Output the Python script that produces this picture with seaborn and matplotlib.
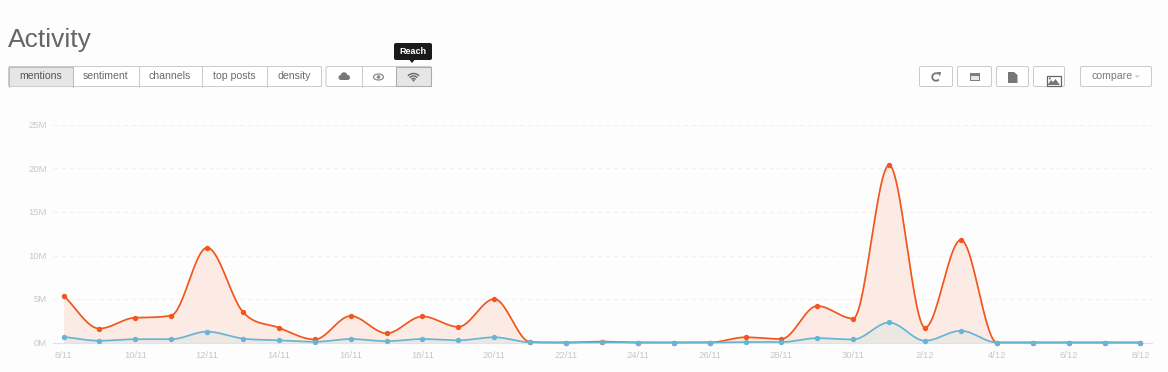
import numpy as np, matplotlib
matplotlib.use("Agg")
import matplotlib.pyplot as plt
import seaborn as sns
from matplotlib.patches import FancyBboxPatch, Rectangle, Circle, Ellipse, Polygon, Arc

# values in millions, one per day from 8/11 to 8/12
mentions = [5.4, 1.6, 2.85, 3.1, 10.9, 3.5, 1.7, 0.35, 3.05, 1.05, 3.0, 1.8, 5.0, 0.05, 0, 0.1,
            0, 0, 0, 0.6, 0.4, 4.2, 2.75, 20.4, 1.7, 11.8, 0, 0, 0, 0, 0]
reach = [0.65, 0.2, 0.38, 0.38, 1.25, 0.45, 0.25, 0.08, 0.4, 0.15, 0.4, 0.25, 0.6, 0.02, 0, 0.02,
         0, 0, 0, 0.05, 0.05, 0.5, 0.35, 2.3, 0.2, 1.35, 0, 0, 0, 0, 0]
tick_labels = ['8/11', '10/11', '12/11', '14/11', '16/11', '18/11', '20/11', '22/11',
               '24/11', '26/11', '28/11', '30/11', '2/12', '4/12', '6/12', '8/12']
y_ticks = [0, 5, 10, 15, 20, 25]
tabs = ['mentions', 'sentiment', 'channels', 'top posts', 'density']

BG = '#fdfdfd'
ORANGE = '#f0561d'
BLUE = '#68b4d4'
EDGE = '#cccccc'

sns.set_style("white")
plt.rcParams['font.family'] = ['Liberation Sans', 'DejaVu Sans']


def monotone(y, per=24):
    # d3 style monotone cubic: mean of the secants, zero at turning points, then limited
    y = np.array(y, dtype=float)
    x = np.arange(len(y))
    d = np.diff(y)
    m = np.zeros(len(y))
    for i in range(1, len(y) - 1):
        if d[i - 1] * d[i] > 0:
            m[i] = (d[i - 1] + d[i]) / 2
    m[0], m[-1] = d[0], d[-1]
    for i in range(len(d)):
        if d[i] == 0:
            m[i] = m[i + 1] = 0
            continue
        a, b = m[i] / d[i], m[i + 1] / d[i]
        s = a * a + b * b
        if s > 9:
            k = 3 / np.sqrt(s)
            m[i], m[i + 1] = k * a * d[i], k * b * d[i]
    t = np.linspace(0, 1, per, endpoint=False)
    xs, ys = [], []
    for i in range(len(y) - 1):
        h00 = 2 * t**3 - 3 * t**2 + 1
        h10 = t**3 - 2 * t**2 + t
        h01 = -2 * t**3 + 3 * t**2
        h11 = t**3 - t**2
        xs.extend(x[i] + t)
        ys.extend(h00 * y[i] + h10 * m[i] + h01 * y[i + 1] + h11 * m[i + 1])
    xs.append(x[-1])
    ys.append(y[-1])
    return np.array(xs), np.array(ys)


fig = plt.figure(figsize=(11.68, 3.72), dpi=100, facecolor=BG)
W, H = 1168, 372

# chart area, placed in pixels of the reference
left, right, top, bottom = 53, 1152, 125, 342.5
ax = fig.add_axes([left / W, 1 - bottom / H, (right - left) / W, (bottom - top) / H], facecolor=BG)
per_day = (1140.4 - 63.5) / 30
ax.set_xlim(-(63.5 - left) / per_day, 30 + (right - 1140.4) / per_day)
ax.set_ylim(0, 25)

days = np.arange(len(mentions))
for vals, col, fill, z in [(mentions, ORANGE, '#fbebe4', 2), (reach, BLUE, '#ebe7e3', 3)]:
    xs, ys = monotone(vals)
    ax.fill_between(xs, 0, ys, color=fill, lw=0, zorder=z)
    sns.lineplot(x=xs, y=ys, color=col, lw=1.25, ax=ax, estimator=None, sort=False, zorder=z + 2, clip_on=False)
    sns.scatterplot(x=days, y=vals, color=col, s=15, linewidth=0, ax=ax, zorder=z + 2, clip_on=False)

ax.set_yticks(y_ticks)
ax.set_yticklabels([f'{v}M' for v in y_ticks])
ax.set_xticks(days[::2])
ax.set_xticklabels(tick_labels)
ax.tick_params(axis='y', length=0, labelsize=6.8, labelcolor='#c8c8c8', pad=4.5)
ax.tick_params(axis='x', length=3, width=0.7, color='#e2e2e2', labelsize=6.8, labelcolor='#c8c8c8', pad=3)
ax.yaxis.grid(True, color='#f1f1f1', lw=0.8, ls=(0, (4, 3)), zorder=0)
ax.set_axisbelow(True)
for s in ['top', 'left', 'right']:
    ax.spines[s].set_visible(False)
ax.spines['bottom'].set_color('#e2e2e2')
ax.spines['bottom'].set_linewidth(0.8)

# toolbar overlay in pixel coordinates
ui = fig.add_axes([0, 0, 1, 1], facecolor='none')
ui.set_xlim(0, W)
ui.set_ylim(H, 0)
ui.axis('off')

ui.text(7.5, 47, 'Activity', fontsize=19, color='#666666', va='baseline', ha='left')


def button(x0, x1, fc='white', y0=66.5, y1=86.5):
    ui.add_patch(FancyBboxPatch((x0 + 1, y0 + 1), x1 - x0 - 2, y1 - y0 - 2, boxstyle='round,pad=1,rounding_size=1.5',
                                fc=fc, ec=EDGE, lw=0.75))


tab_edges = [8.5, 72.5, 138.5, 201.5, 266.5, 321.5]
button(tab_edges[0], tab_edges[-1])
ui.add_patch(Rectangle((tab_edges[0] + 0.5, 67), tab_edges[1] - tab_edges[0] - 0.5, 19, fc='#e6e6e6', ec='none'))
for i, name in enumerate(tabs):
    if i:
        ui.plot([tab_edges[i]] * 2, [66.5, 86.5], color=EDGE, lw=0.75)
    ui.text((tab_edges[i] + tab_edges[i + 1]) / 2, 75.8, name, fontsize=7.6, ha='center', va='center',
            color='#555555' if i == 0 else '#6a6a6a')
ui.plot([8.5, 8.5, 72.5, 72.5], [86.5, 66.5, 66.5, 86.5], color='#bdbdbd', lw=0.75)

icon_edges = [326, 361.5, 396, 431.5]
button(icon_edges[0], icon_edges[-1])
ui.add_patch(Rectangle((396, 67), 35, 19, fc='#e6e6e6', ec='#ababab', lw=0.75))
ui.plot([361.5, 361.5], [66.5, 86.5], color=EDGE, lw=0.75)

# cloud
for cx, cy, r in [(341, 77.5, 2.5), (344, 75.8, 3.5), (347.5, 77.5, 2.5)]:
    ui.add_patch(Circle((cx, cy), r, fc='#777777', ec='none'))
ui.add_patch(Rectangle((341, 77), 7, 3, fc='#777777', ec='none'))
# eye
ui.add_patch(Ellipse((378.5, 77), 10, 6, fc='white', ec='#8a8a8a', lw=0.9))
ui.add_patch(Circle((378.5, 77), 1.8, fc='#8a8a8a', ec='none'))
# wifi
for w in [6, 11, 16]:
    ui.add_patch(Arc((413.5, 81.5), w, w, theta1=225, theta2=315, color='#666666', lw=1))
ui.add_patch(Circle((413.5, 80.5), 1, fc='#666666', ec='none'))

# Reach tooltip
ui.add_patch(FancyBboxPatch((395, 44), 36, 15, boxstyle='round,pad=1,rounding_size=2', fc='#1a1a1a', ec='none'))
ui.add_patch(Polygon([[409.5, 60], [414.5, 60], [412, 63]], fc='#1a1a1a', ec='none'))
ui.text(413, 51.3, 'Reach', fontsize=6.5, color='white', ha='center', va='center', fontweight='bold')

# right hand buttons
for x0, x1 in [(919.5, 952.5), (957.5, 991.5), (996.5, 1028.5), (1033.5, 1064.5)]:
    button(x0, x1)
button(1080.5, 1151.5)
ui.add_patch(Arc((936, 77), 7.5, 7.5, theta1=-320, theta2=-60, color='#777777', lw=1.3))
ui.add_patch(Polygon([[937, 72], [941, 72], [940, 76.5]], fc='#777777', ec='none'))
ui.add_patch(Rectangle((969.5, 73), 10.5, 8, fc='#7d7d7d', ec='none'))
ui.add_patch(Rectangle((971, 76), 7.5, 3.5, fc='#e6e6e6', ec='none'))
ui.add_patch(Polygon([[1008, 72], [1014, 72], [1017.5, 75], [1017.5, 83], [1008, 83]], fc='#777777', ec='none'))
ui.add_patch(Rectangle((1046.5, 75.5), 14, 10.5, fc='white', ec='#666666', lw=0.9))
ui.add_patch(Polygon([[1047.5, 85], [1051, 80], [1053, 82], [1055.5, 79], [1060, 85]], fc='#777777', ec='none'))
ui.add_patch(Circle((1050, 78.5), 1, fc='#777777', ec='none'))
ui.text(1112, 75.8, 'compare', fontsize=7.6, color='#7a7a7a', ha='center', va='center')
ui.add_patch(Polygon([[1134.5, 75.5], [1140, 75.5], [1137.2, 77.8]], fc='#c8c8c8', ec='none'))

fig.savefig('out.png', dpi=100, facecolor=BG)
